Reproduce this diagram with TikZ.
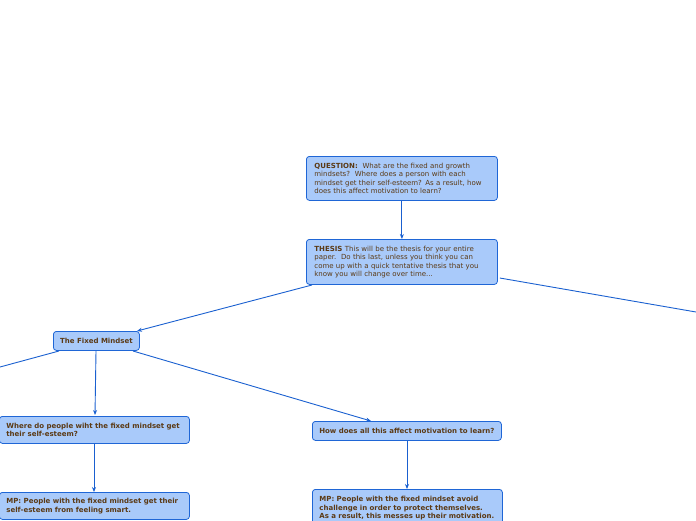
\documentclass[tikz,border=0pt]{standalone}
\usepackage{fontspec}
\setmainfont{DejaVu Sans}
\usetikzlibrary{arrows.meta}
\definecolor{boxfill}{HTML}{A9CAFA}
\definecolor{boxborder}{HTML}{1F66D6}
\definecolor{linkc}{HTML}{1A60D0}
\definecolor{txt}{HTML}{5B3A15}
\tikzset{
  box/.style={draw=boxborder, fill=boxfill, rounded corners=3pt, line width=0.8pt,
    text=txt, font=\fontsize{7}{8.4}\selectfont, align=left, inner xsep=8pt, inner ysep=2pt,
    anchor=north west},
  link/.style={draw=linkc, line width=0.9pt},
  arr/.style={link, -{Stealth[length=5pt,width=4pt]}}
}
\begin{document}
\begin{tikzpicture}[x=1pt,y=-1pt]
\useasboundingbox (0,0) rectangle (696,520);
\node[box, text width=175pt, minimum height=44pt] (q) at (306,156)
  {\textbf{QUESTION:}\ \ What are the fixed and growth\\mindsets?\ \ Where does a person with each\\mindset get their self-esteem? As a result, how\\does this affect motivation to learn?};
\node[box, text width=175pt, minimum height=45pt] (t) at (306,239)
  {\textbf{THESIS} This will be the thesis for your entire\\paper.\ \ Do this last, unless you think you can\\come up with a quick tentative thesis that you\\know you will change over time...};
\node[box, minimum width=86pt, minimum height=19pt, align=center, inner xsep=2pt] (f) at (53,331)
  {\textbf{The Fixed Mindset}};
\node[box, text width=176pt, minimum height=27pt, inner xsep=7pt] (w) at (-1,416)
  {\textbf{Where do people wiht the fixed mindset get}\\\textbf{their self-esteem?}};
\node[box, text width=176pt, minimum height=27pt, inner xsep=7pt] (m1) at (-1,492)
  {\textbf{MP: People with the fixed mindset get their}\\\textbf{self-esteem from feeling smart.}};
\node[box, minimum width=189pt, minimum height=19pt, align=center, inner xsep=2pt] (h) at (312,421)
  {\textbf{How does all this affect motivation to learn?}};
\node[box, text width=176pt, inner xsep=7pt, inner ysep=7pt, anchor=north west] (m2) at (312,489)
  {\textbf{MP: People with the fixed mindset avoid}\\\textbf{challenge in order to protect themselves.}\\\textbf{As a result, this messes up their motivation.}};
\coordinate (offr) at (696,312);
\coordinate (offl) at (0,367);
\draw[arr] (q.south) -- (t.north);
\draw[arr] (312,285) -- (137,331);
\draw[link] (t.east |- 0,278) ++(2,0) -- (offr);
\draw[link] (59,351) -- (offl);
\draw[arr] (96,351) -- (95,415);
\draw[arr] (133,351) -- (371,421);
\draw[arr] (w.south -| 94,0) -- (m1.north -| 94,0);
\draw[arr] (h.south -| 407,0) -- (m2.north -| 407,0);
\end{tikzpicture}
\end{document}
